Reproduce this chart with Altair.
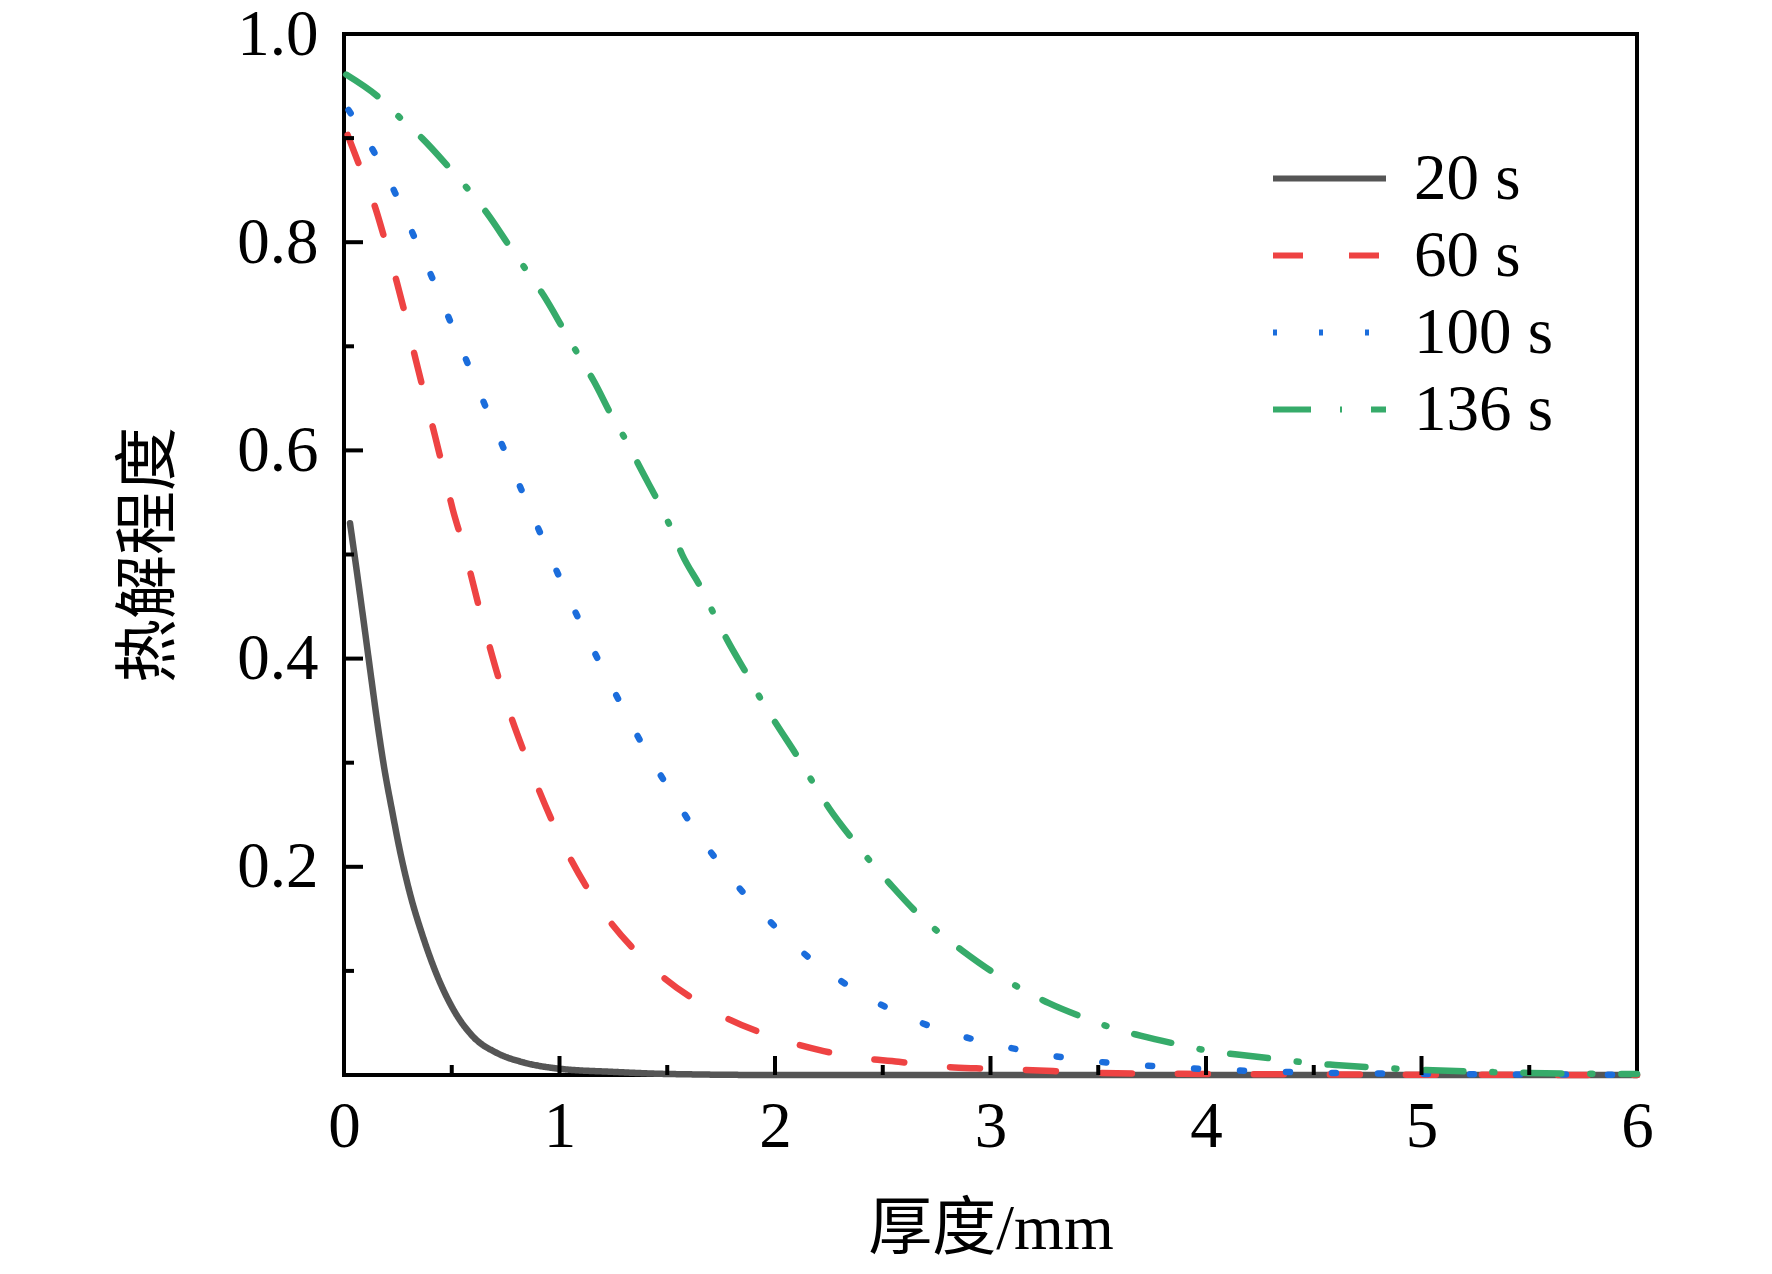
import altair as alt
import pandas as pd

# ---- data ----
series = ["20 s", "60 s", "100 s", "136 s"]

x20 = [0.028, 0.062, 0.093, 0.124, 0.155, 0.185, 0.224, 0.263, 0.309, 0.363, 0.433, 0.51,
       0.603, 0.711, 0.835, 1.0, 1.25, 1.5, 2.0, 3.0, 4.0, 5.0, 6.0]
y20 = [0.53, 0.48, 0.433, 0.385, 0.338, 0.297, 0.253, 0.212, 0.172, 0.135, 0.095, 0.062,
       0.036, 0.021, 0.012, 0.006, 0.003, 0.001, 0.0, 0.0, 0.0, 0.0, 0.0]

x60 = [0.017, 0.078, 0.147, 0.194, 0.246, 0.288, 0.333, 0.373, 0.421, 0.459, 0.505, 0.549,
       0.641, 0.737, 0.858, 0.997, 1.167, 1.391, 1.692, 2.03, 2.226, 2.379, 2.574, 2.739,
       2.934, 3.10, 3.29, 3.5, 4.0, 5.0, 6.0]
y60 = [0.903, 0.870, 0.832, 0.799, 0.761, 0.727, 0.687, 0.654, 0.615, 0.583, 0.543, 0.512,
       0.438, 0.368, 0.298, 0.230, 0.167, 0.111, 0.064, 0.034, 0.023, 0.0169, 0.0127, 0.0086,
       0.0064, 0.0054, 0.0038, 0.002, 0.001, 0.0003, 0.0]

x100 = [0.021, 0.141, 0.238, 0.326, 0.413, 0.495, 0.579, 0.659, 0.747, 0.832, 0.914, 1.0,
        1.09, 1.184, 1.283, 1.383, 1.49, 1.604, 1.728, 1.862, 2.006, 2.168, 2.346, 2.539,
        2.739, 2.949, 3.16, 3.369, 3.585, 3.80, 4.016, 4.23, 4.447, 5.0, 5.5, 6.0]
y100 = [0.927, 0.886, 0.847, 0.805, 0.764, 0.723, 0.681, 0.641, 0.599, 0.558, 0.519, 0.478,
        0.4375, 0.397, 0.357, 0.318, 0.281, 0.243, 0.207, 0.173, 0.1415, 0.111, 0.085, 0.0627,
        0.0455, 0.0328, 0.0232, 0.0159, 0.0111, 0.008, 0.0054, 0.0038, 0.0025, 0.001, 0.0005, 0.0002]

x136 = [0.01, 0.168, 0.263, 0.362, 0.495, 0.583, 0.663, 0.775, 0.853, 0.926, 1.025, 1.095,
        1.158, 1.248, 1.316, 1.375, 1.467, 1.52, 1.569, 1.662, 1.723, 1.778, 1.878, 1.943,
        2.01, 2.113, 2.179, 2.252, 2.367, 2.447, 2.532, 2.668, 2.766, 2.872, 3.032, 3.151,
        3.271, 3.449, 3.573, 3.70, 3.887, 4.016, 4.145, 4.34, 4.468, 4.60, 4.796, 5.0, 5.5, 6.0]
y136 = [0.961, 0.938, 0.919, 0.900, 0.870, 0.849, 0.828, 0.794, 0.771, 0.749, 0.714, 0.689,
        0.667, 0.631, 0.607, 0.583, 0.547, 0.524, 0.500, 0.466, 0.44, 0.418, 0.382, 0.358,
        0.336, 0.303, 0.28, 0.256, 0.2245, 0.204, 0.184, 0.154, 0.136, 0.119, 0.096, 0.082,
        0.069, 0.054, 0.0446, 0.0376, 0.0287, 0.023, 0.0197, 0.015, 0.0118, 0.0096, 0.007,
        0.005, 0.002, 0.001]

x_tick_labels = [0, 1, 2, 3, 4, 5, 6]
y_tick_labels = [0.2, 0.4, 0.6, 0.8, 1.0]
x_major_ticks = [1, 2, 3, 4, 5]
x_minor_ticks = [0.5, 1.5, 2.5, 3.5, 4.5, 5.5]
y_major_ticks = [0.2, 0.4, 0.6, 0.8]
y_minor_ticks = [0.1, 0.3, 0.5, 0.7, 0.9]

colors = ["#555555", "#ee4343", "#1b6ddc", "#36ab6a"]
dashes = [[1, 0], [30, 46], [4, 42], [38, 29, 2, 29]]

# ---- build tables ----
rows = []
for name, xs, ys in zip(series, [x20, x60, x100, x136], [y20, y60, y100, y136]):
    for i, (a, b) in enumerate(zip(xs, ys)):
        rows.append({"s": name, "d": a, "v": b, "o": i})
df = pd.DataFrame(rows)

W, H = 1293, 1041
FONT = "Liberation Serif, Times New Roman, Noto Sans CJK SC"

xscale = alt.Scale(domain=[0, 6], nice=False, zero=False)
yscale = alt.Scale(domain=[0, 1.0], nice=False, zero=False)
xaxis = alt.Axis(values=x_tick_labels, ticks=False, domain=False, grid=False,
                 labelPadding=20, titlePadding=38, format="d", labelFlush=False,
                 labelFont=FONT, titleFont=FONT, labelFontSize=65, titleFontSize=64,
                 labelColor="black", titleColor="black", titleFontWeight="normal")
yaxis = alt.Axis(values=y_tick_labels, ticks=False, domain=False, grid=False,
                 labelPadding=26, titlePadding=55, format=".1f", labelFlush=False,
                 labelFont=FONT, titleFont=FONT, labelFontSize=65, titleFontSize=64,
                 labelColor="black", titleColor="black", titleFontWeight="normal")

lines = alt.Chart(df).mark_line(strokeWidth=6.5, strokeCap="round", interpolate="monotone").encode(
    x=alt.X("d:Q", scale=xscale, axis=xaxis, title="厚度/mm"),
    y=alt.Y("v:Q", scale=yscale, axis=yaxis, title="热解程度"),
    color=alt.Color("s:N", scale=alt.Scale(domain=series, range=colors),
                    legend=alt.Legend(title=None, orient="none", legendX=926, legendY=112,
                                      symbolType="stroke", symbolSize=12769,
                                      symbolStrokeWidth=6, labelFontSize=65,
                                      labelOffset=25, clipHeight=65, rowPadding=11,
                                      padding=0, labelFont=FONT, labelColor="black")),
    strokeDash=alt.StrokeDash("s:N", scale=alt.Scale(domain=series, range=dashes), legend=None),
    order="o:Q",
)

xmaj = alt.Chart(pd.DataFrame({"t": x_major_ticks})).mark_rule(color="black", strokeWidth=4).encode(
    x=alt.X("t:Q", scale=xscale, axis=xaxis, title="厚度/mm"),
    y=alt.value(H), y2=alt.value(H - 19))
xmin = alt.Chart(pd.DataFrame({"t": x_minor_ticks})).mark_rule(color="black", strokeWidth=4).encode(
    x=alt.X("t:Q", scale=xscale, axis=xaxis, title="厚度/mm"),
    y=alt.value(H), y2=alt.value(H - 10))
ymaj = alt.Chart(pd.DataFrame({"t": y_major_ticks})).mark_rule(color="black", strokeWidth=4).encode(
    y=alt.Y("t:Q", scale=yscale, axis=yaxis, title="热解程度"),
    x=alt.value(0), x2=alt.value(19))
ymin = alt.Chart(pd.DataFrame({"t": y_minor_ticks})).mark_rule(color="black", strokeWidth=4).encode(
    y=alt.Y("t:Q", scale=yscale, axis=yaxis, title="热解程度"),
    x=alt.value(0), x2=alt.value(10))

chart = alt.layer(lines, xmaj, xmin, ymaj, ymin).properties(
    width=W, height=H,
    padding={"left": 336, "top": 26, "right": 120, "bottom": 196},
    autosize=alt.AutoSizeParams(type="none"),
    background="white",
).configure_view(
    stroke="black", strokeWidth=4
)

chart.save("out.html", embed_options={"renderer": "svg", "actions": False})
